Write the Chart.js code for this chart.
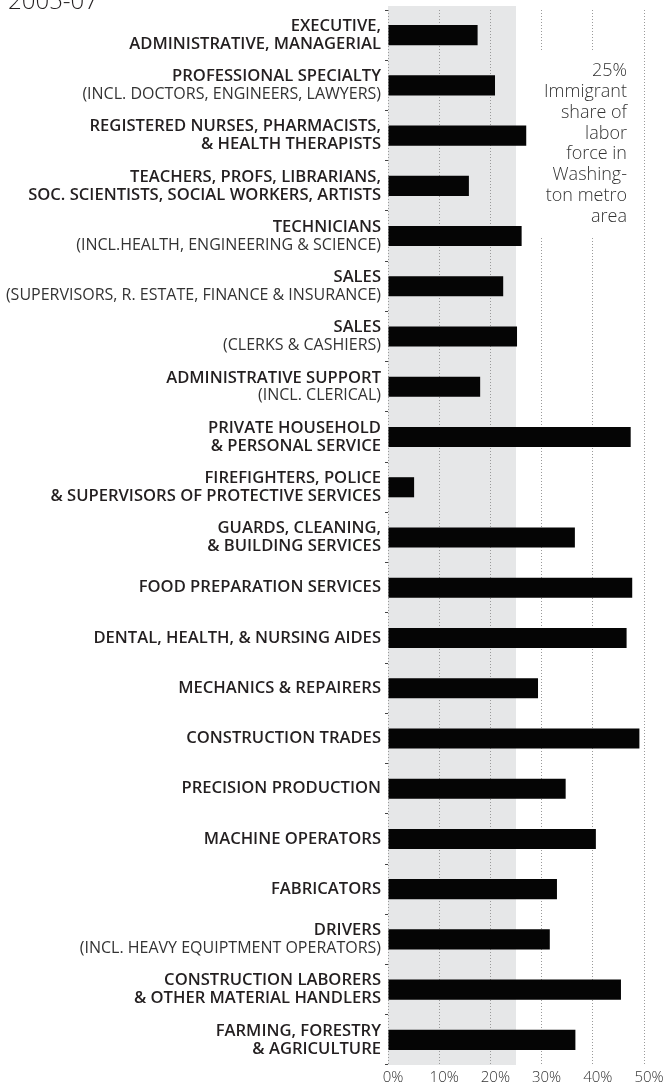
<!DOCTYPE html>
<html>
<head>
<meta charset="utf-8">
<script src="https://cdn.jsdelivr.net/npm/chart.js@4.4.1/dist/chart.umd.min.js"></script>
<style>
  html, body { margin: 0; padding: 0; background: #fff; }
  #wrap { width: 667px; height: 1087px; position: relative; }
</style>
</head>
<body>
<div id="wrap"><canvas id="chart"></canvas></div>
<script>
// Immigrant share of each occupation, Washington metro area
const title = '2005-07';

const categories = [
  ['EXECUTIVE,', 'ADMINISTRATIVE, MANAGERIAL'],
  ['PROFESSIONAL SPECIALTY', '(INCL. DOCTORS, ENGINEERS, LAWYERS)'],
  ['REGISTERED NURSES, PHARMACISTS,', '& HEALTH THERAPISTS'],
  ['TEACHERS, PROFS, LIBRARIANS,', 'SOC. SCIENTISTS, SOCIAL WORKERS, ARTISTS'],
  ['TECHNICIANS', '(INCL.HEALTH, ENGINEERING & SCIENCE)'],
  ['SALES', '(SUPERVISORS, R. ESTATE, FINANCE & INSURANCE)'],
  ['SALES', '(CLERKS & CASHIERS)'],
  ['ADMINISTRATIVE SUPPORT', '(INCL. CLERICAL)'],
  ['PRIVATE HOUSEHOLD', '& PERSONAL SERVICE'],
  ['FIREFIGHTERS, POLICE', '& SUPERVISORS OF PROTECTIVE SERVICES'],
  ['GUARDS, CLEANING,', '& BUILDING SERVICES'],
  ['FOOD PREPARATION SERVICES'],
  ['DENTAL, HEALTH, & NURSING AIDES'],
  ['MECHANICS & REPAIRERS'],
  ['CONSTRUCTION TRADES'],
  ['PRECISION PRODUCTION'],
  ['MACHINE OPERATORS'],
  ['FABRICATORS'],
  ['DRIVERS', '(INCL. HEAVY EQUIPTMENT OPERATORS)'],
  ['CONSTRUCTION LABORERS', '& OTHER MATERIAL HANDLERS'],
  ['FARMING, FORESTRY', '& AGRICULTURE']
];

const shares = [17.5, 20.9, 27.0, 15.8, 26.1, 22.5, 25.2, 18.0, 47.4, 5.1, 36.5,
                47.7, 46.6, 29.3, 49.1, 34.7, 40.6, 33.0, 31.6, 45.5, 36.6];

const metroShare = 25;
const noteLines = ['25%', 'Immigrant', 'share of', 'labor', 'force in', 'Washing-', 'ton metro', 'area'];
const xTicks = [0, 10, 20, 30, 40, 50];

const decorations = {
  id: 'decorations',
  beforeDraw(chart) {
    const { ctx, chartArea, scales: { x } } = chart;
    const x0 = x.getPixelForValue(0);
    const x1 = x.getPixelForValue(metroShare);
    ctx.save();
    // shaded band up to the metro-wide share
    ctx.fillStyle = '#e6e7e8';
    ctx.fillRect(x0, chartArea.top - 4, x1 - x0, chartArea.bottom - chartArea.top + 4);
    // title, clipped at the top like the original
    ctx.fillStyle = '#231f20';
    ctx.font = '300 24px "Open Sans"';
    ctx.textBaseline = 'alphabetic';
    ctx.textAlign = 'left';
    ctx.fillText(title, 8, 9);
    ctx.restore();
  },
  beforeDatasetsDraw(chart) {
    const { ctx, scales: { x } } = chart;
    const left = x.getPixelForValue(metroShare) + 3;
    const right = x.getPixelForValue(50) - 3;
    ctx.save();
    ctx.fillStyle = '#fff';
    ctx.fillRect(left, 52, right - left, 186);
    ctx.fillStyle = '#333';
    ctx.font = '300 18px "Open Sans"';
    ctx.textAlign = 'right';
    ctx.textBaseline = 'middle';
    noteLines.forEach((line, i) => ctx.fillText(line, 627, 71 + i * 20.8));
    ctx.restore();
  },
  afterDraw(chart) {
    // category labels: bold first line, regular for the bracketed notes
    const { ctx, scales: { y } } = chart;
    const lh = 18;
    ctx.save();
    ctx.textAlign = 'right';
    ctx.textBaseline = 'middle';
    categories.forEach((lines, i) => {
      const cy = y.getPixelForValue(i);
      const start = cy - (lines.length - 1) * lh / 2;
      lines.forEach((line, j) => {
        const paren = line.startsWith('(');
        ctx.font = paren ? '400 16px "Open Sans"' : '600 16.6px "Open Sans"';
        ctx.fillStyle = paren ? '#333' : '#231f20';
        ctx.fillText(line, y.right - 7, start + j * lh);
      });
    });
    ctx.restore();
  }
};

new Chart(document.getElementById('chart'), {
  type: 'bar',
  data: {
    labels: categories,
    datasets: [{
      data: shares,
      backgroundColor: '#050505',
      barPercentage: 0.4,
      categoryPercentage: 1
    }]
  },
  options: {
    indexAxis: 'y',
    responsive: true,
    maintainAspectRatio: false,
    animation: false,
    layout: { padding: { top: 10, right: 23, left: 0, bottom: 0 } },
    plugins: {
      legend: { display: false },
      tooltip: { enabled: false }
    },
    scales: {
      x: {
        min: 0,
        max: 50,
        afterBuildTicks: (scale) => { scale.ticks = xTicks.map(v => ({ value: v })); },
        afterFit: (scale) => { scale.height = 22; },
        ticks: {
          callback: v => v + '%',
          color: '#333',
          font: { family: 'Open Sans', size: 15, weight: '300' },
          padding: 4,
          labelOffset: 5,
          maxRotation: 0,
          autoSkip: false
        },
        grid: { color: '#9a9a9a', drawTicks: false, lineWidth: 1 },
        border: { display: false, dash: [1, 2] }
      },
      y: {
        ticks: { display: false },
        grid: { drawOnChartArea: false, drawTicks: true, tickLength: 3, tickColor: '#444' },
        border: { display: false },
        afterFit: (scale) => { scale.width = 388; }
      }
    }
  },
  plugins: [decorations]
});
</script>
</body>
</html>
